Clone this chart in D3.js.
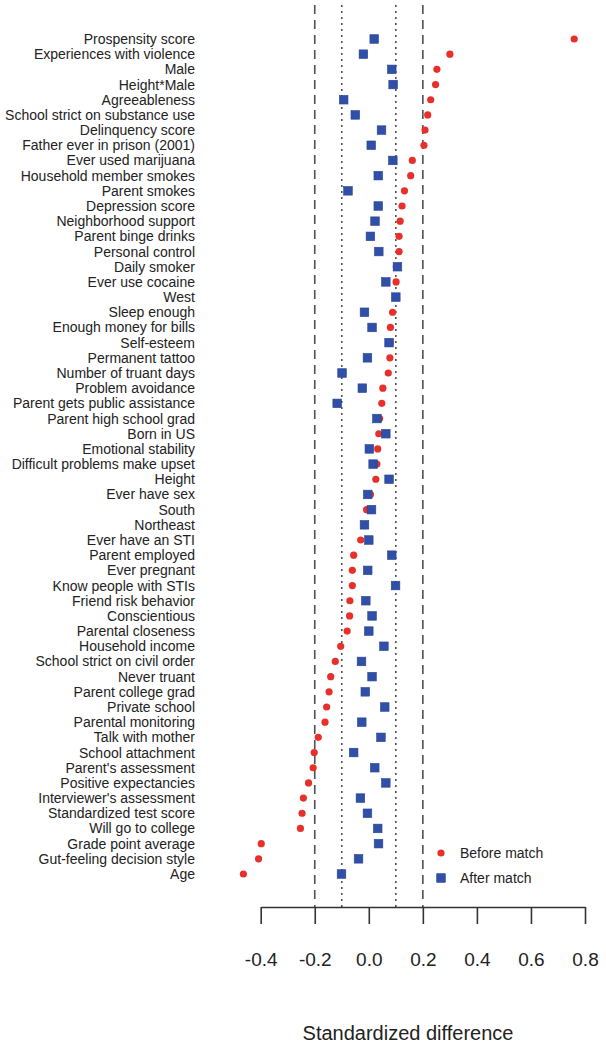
<!DOCTYPE html>
<html>
<head>
<meta charset="utf-8">
<script src="https://cdn.jsdelivr.net/npm/d3@7"></script>
<style>
html,body{margin:0;padding:0;background:#fff;}
svg{display:block;}
text{font-family:"Liberation Sans",Arial,Helvetica,sans-serif;fill:#222;}
</style>
</head>
<body>
<div id="chart"></div>
<script>
const variables = [
"Prospensity score","Experiences with violence","Male","Height*Male","Agreeableness",
"School strict on substance use","Delinquency score","Father ever in prison (2001)",
"Ever used marijuana","Household member smokes","Parent smokes","Depression score",
"Neighborhood support","Parent binge drinks","Personal control","Daily smoker",
"Ever use cocaine","West","Sleep enough","Enough money for bills","Self-esteem",
"Permanent tattoo","Number of truant days","Problem avoidance","Parent gets public assistance",
"Parent high school grad","Born in US","Emotional stability","Difficult problems make upset",
"Height","Ever have sex","South","Northeast","Ever have an STI","Parent employed",
"Ever pregnant","Know people with STIs","Friend risk behavior","Conscientious",
"Parental closeness","Household income","School strict on civil order","Never truant",
"Parent college grad","Private school","Parental monitoring","Talk with mother",
"School attachment","Parent's assessment","Positive expectancies","Interviewer's assessment",
"Standardized test score","Will go to college","Grade point average",
"Gut-feeling decision style","Age"
];
const beforeMatch = [
0.760,0.300,0.252,0.247,0.229,0.218,0.208,0.204,0.161,0.155,0.132,0.123,
0.116,0.112,0.112,0.102,0.101,0.098,0.088,0.080,0.078,0.078,0.072,0.052,0.048,
0.040,0.037,0.033,0.030,0.026,0.006,-0.008,-0.015,-0.030,-0.056,-0.061,-0.061,
-0.070,-0.071,-0.080,-0.104,-0.124,-0.141,-0.147,-0.156,-0.162,-0.187,-0.202,
-0.206,-0.223,-0.242,-0.247,-0.253,-0.398,-0.408,-0.464
];
const afterMatch = [
0.020,-0.020,0.085,0.090,-0.093,-0.050,0.047,0.009,0.089,0.035,-0.077,0.035,
0.023,0.006,0.037,0.106,0.063,0.100,-0.016,0.012,0.075,-0.005,-0.099,-0.024,-0.117,
0.030,0.063,0.002,0.016,0.075,-0.004,0.010,-0.016,0.000,0.085,-0.004,0.099,
-0.011,0.012,0.000,0.056,-0.027,0.012,-0.013,0.059,-0.026,0.045,-0.056,
0.022,0.063,-0.031,-0.005,0.033,0.036,-0.038,-0.101
];
const tickValues = [-0.4,-0.2,0.0,0.2,0.4,0.6,0.8];
const dashedRefs = [-0.2,0.2];
const dottedRefs = [-0.1,0.1];
const legendLabels = ["Before match","After match"];
const axisTitle = "Standardized difference";

const W = 606, H = 1050;
const RED = "#e8302a", BLUE = "#3050a8";
const svg = d3.select("#chart").append("svg").attr("width", W).attr("height", H);

const x = d3.scaleLinear().domain([-0.4, 0.8]).range([260.7, 585]);
const y = d3.scalePoint().domain(variables).range([39, 874]);
const axisY = 907;

// reference lines
svg.selectAll("line.dash").data(dashedRefs).join("line")
  .attr("x1", d => x(d)).attr("x2", d => x(d))
  .attr("y1", 5).attr("y2", axisY)
  .attr("stroke", "#505050").attr("stroke-width", 1.6)
  .attr("stroke-dasharray", "9,6");
svg.selectAll("line.dot").data(dottedRefs).join("line")
  .attr("x1", d => x(d)).attr("x2", d => x(d))
  .attr("y1", 5).attr("y2", axisY)
  .attr("stroke", "#505050").attr("stroke-width", 1.6)
  .attr("stroke-dasharray", "2,4");

// labels
svg.append("g").selectAll("text").data(variables).join("text")
  .attr("x", 195).attr("y", d => y(d)).attr("dy", "0.36em")
  .attr("text-anchor", "end").attr("font-size", 14)
  .text(d => d);

// before match points
svg.append("g").selectAll("circle").data(variables).join("circle")
  .attr("cx", (d,i) => x(beforeMatch[i])).attr("cy", d => y(d))
  .attr("r", 3.6).attr("fill", RED);

// after match squares
const sq = 8.6;
svg.append("g").selectAll("rect").data(variables).join("rect")
  .attr("x", (d,i) => x(afterMatch[i]) - sq/2).attr("y", d => y(d) - sq/2)
  .attr("width", sq).attr("height", sq)
  .attr("fill", BLUE).attr("stroke", "#2a4496").attr("stroke-width", 0.6);

// axis
const fmt = d3.format(".1f");
const axis = d3.axisBottom(x).tickValues(tickValues)
  .tickFormat(d => fmt(d).replace("\u2212", "-"))
  .tickSize(17).tickSizeOuter(0).tickPadding(29);
const gAxis = svg.append("g").attr("transform", `translate(0,${axisY})`).call(axis);
gAxis.select(".domain").attr("stroke", "#333").attr("stroke-width", 1.6);
gAxis.selectAll(".tick line").attr("stroke", "#333").attr("stroke-width", 1.6);
gAxis.selectAll(".tick text").attr("font-size", 19).attr("fill", "#222")
  .attr("font-family", '"Liberation Sans",Arial,sans-serif');

svg.append("text").attr("x", 408).attr("y", 1040).attr("text-anchor", "middle")
  .attr("font-size", 20).text(axisTitle);

// legend
const leg = svg.append("g");
leg.append("circle").attr("cx", 441).attr("cy", 853).attr("r", 3.6).attr("fill", RED);
leg.append("rect").attr("x", 441 - sq/2).attr("y", 878 - sq/2).attr("width", sq).attr("height", sq)
  .attr("fill", BLUE).attr("stroke", "#2a4496").attr("stroke-width", 0.6);
leg.selectAll("text").data(legendLabels).join("text")
  .attr("x", 460).attr("y", (d,i) => 853 + i*25).attr("dy", "0.36em")
  .attr("font-size", 14).text(d => d);
</script>
</body>
</html>
